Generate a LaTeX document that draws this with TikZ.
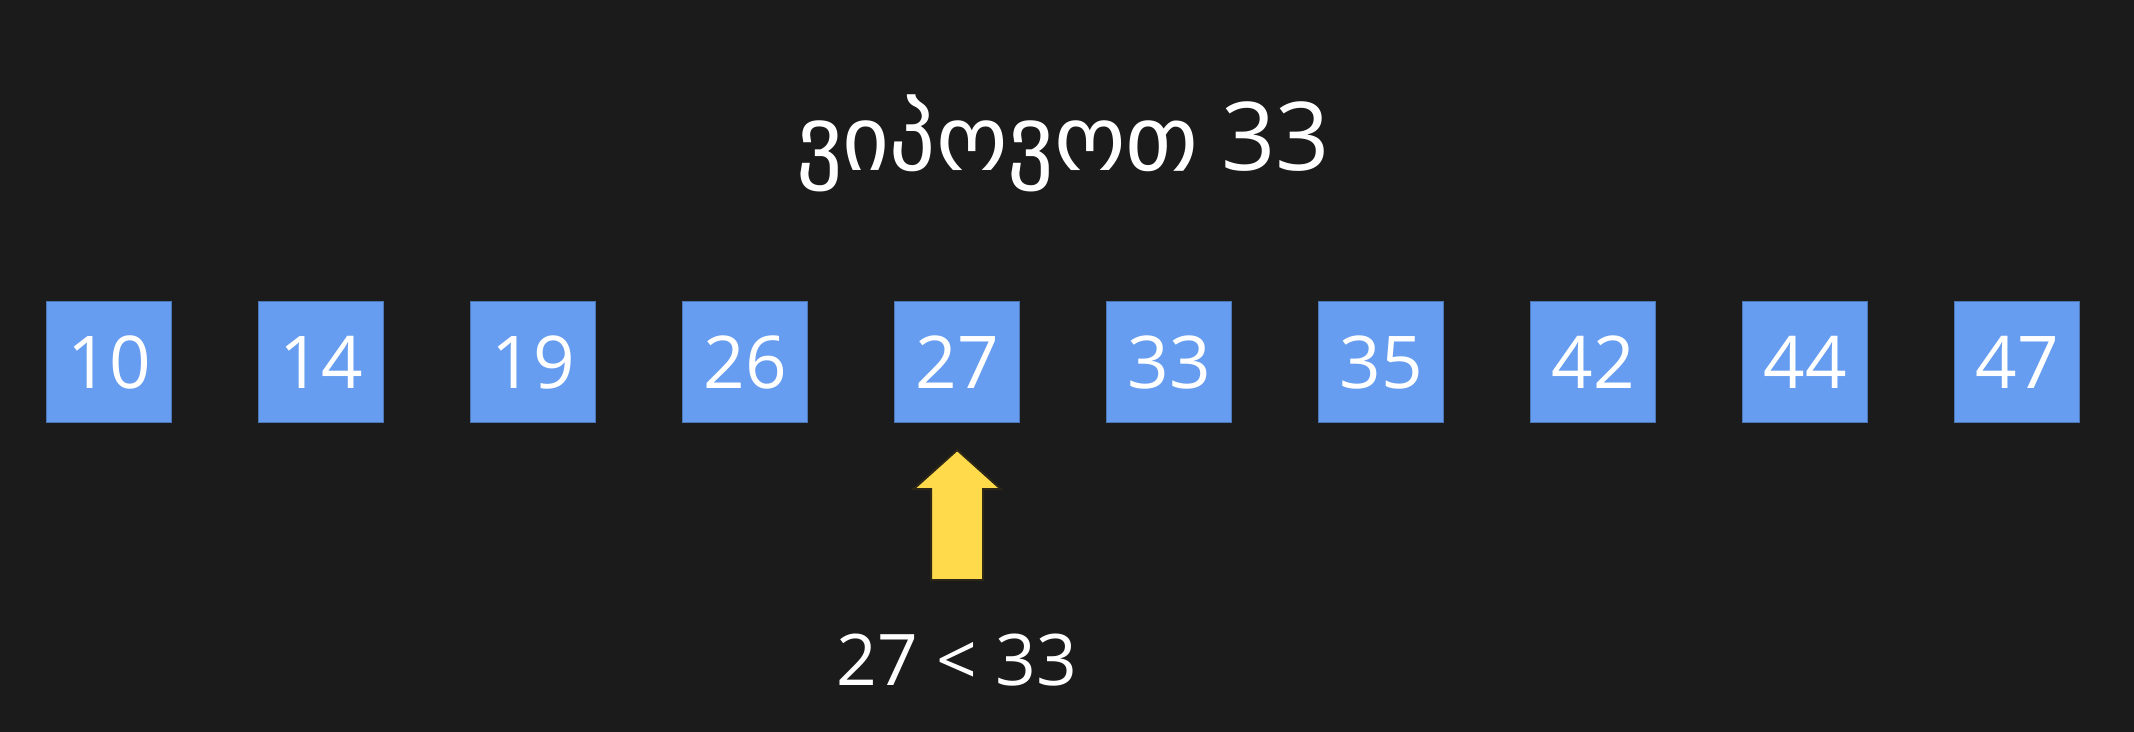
\documentclass[tikz,border=0pt]{standalone}
\usepackage{fontspec}
\setmainfont{Open Sans}
\newfontfamily\geofont{DejaVu Sans}
\usetikzlibrary{positioning}
\definecolor{bgcol}{HTML}{1B1B1B}
\definecolor{cellblue}{HTML}{669DF0}
\definecolor{ptryellow}{HTML}{FFDA4A}
\definecolor{ptredge}{HTML}{2C2716}
\tikzset{
        cell/.style={rectangle, fill=cellblue, draw=cellblue!75!black, line width=0.6pt, minimum width=62.5pt, minimum height=60.5pt, inner sep=0pt, text=white, font=\fontsize{36.4}{40}\selectfont},
        pointer/.style={fill=ptryellow, draw=ptredge, line width=1pt, line join=miter},
        title/.style={text=white, inner sep=0pt, anchor=base, font=\fontsize{47.5}{52}\selectfont},
        note/.style={text=white, inner sep=0pt, anchor=base, font=\fontsize{35.6}{40}\selectfont}
          }
\begin{document}
\begin{tikzpicture}[x=0.5pt, y=-0.5pt]
        \fill[bgcol] (0,0) rectangle (2134,732);
        \node[title] (head) at (1063,171) {{\geofont\fontsize{45.5}{52}\selectfont ვიპოვოთ}\hspace{-1pt} 33};
        \foreach \v [count=\i from 0] in {10,14,19,26,27,33,35,42,44,47}
          \node[cell] (b\i) at (109.2+212*\i,362) {\v};
        % pointer under the middle element
        \draw[pointer, shift={(b4.center)}] (0,88) -- (43.5,127) -- (26,127) -- (26,218)
          -- (-26,218) -- (-26,127) -- (-43.5,127) -- cycle;
        \node[note] (cmp) at (957,685) {27 < 33};
      \end{tikzpicture}
\end{document}
